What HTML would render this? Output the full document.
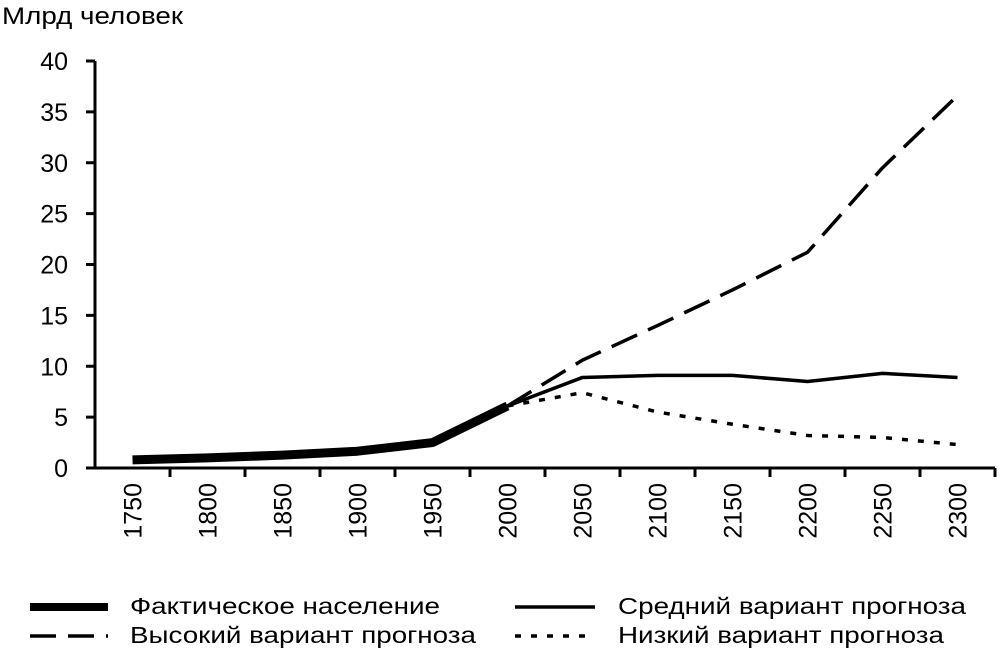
<!DOCTYPE html>
<html><head><meta charset="utf-8"><style>
body{margin:0;background:#fff;}
svg{display:block;font-family:"Liberation Sans",Arial,sans-serif;}
</style></head><body>
<svg id="chart" width="1000" height="653" viewBox="0 0 1000 653">
<text x="2" y="24" font-size="24" textLength="181" lengthAdjust="spacingAndGlyphs" fill="#000">Млрд человек</text>
<g id="axes"></g><g id="series"></g>
<g>
<line x1="30" y1="607" x2="108" y2="607" stroke="#000" stroke-width="8"/>
<text x="130" y="614" font-size="23" textLength="310" lengthAdjust="spacingAndGlyphs">Фактическое население</text>
<line x1="30" y1="636" x2="108" y2="636" stroke="#000" stroke-width="3.5" stroke-dasharray="26,12"/>
<text x="130" y="643" font-size="23" textLength="346" lengthAdjust="spacingAndGlyphs">Высокий вариант прогноза</text>
<line x1="515" y1="607" x2="595" y2="607" stroke="#000" stroke-width="3.5"/>
<text x="618" y="614" font-size="23" textLength="348" lengthAdjust="spacingAndGlyphs">Средний вариант прогноза</text>
<line x1="515" y1="636" x2="595" y2="636" stroke="#000" stroke-width="3.5" stroke-dasharray="6,10"/>
<text x="618" y="643" font-size="23" textLength="326" lengthAdjust="spacingAndGlyphs">Низкий вариант прогноза</text>
</g>
</svg>
<script>
const categories=["1750","1800","1850","1900","1950","2000","2050","2100","2150","2200","2250","2300"];
const yTicks=[0,5,10,15,20,25,30,35,40];
const actual=[0.8,1.0,1.26,1.65,2.5,6.1,null,null,null,null,null,null];
const medium=[null,null,null,null,null,6.1,8.9,9.1,9.1,8.5,9.3,8.9];
const high=[null,null,null,null,null,6.1,10.6,14.0,17.5,21.2,29.5,36.6];
const low=[null,null,null,null,null,6.1,7.4,5.5,4.3,3.2,3.0,2.3];
const NS="http://www.w3.org/2000/svg";
const X0=95,BW=75,Y0=468,YT=61,YMAX=40;
function x(i){return X0+BW*(i+0.5);}
function y(v){return Y0-(Y0-YT)*v/YMAX;}
function mk(tag,attrs,parent){const e=document.createElementNS(NS,tag);for(const k in attrs)e.setAttribute(k,attrs[k]);parent.appendChild(e);return e;}
const axes=document.getElementById('axes'),ser=document.getElementById('series');
let a=mk('line',{x1:X0,y1:YT,x2:X0,y2:Y0,stroke:'#000','stroke-width':3},axes);


a=mk('line',{x1:X0-8,y1:Y0,x2:X0+BW*categories.length,y2:Y0,stroke:'#000','stroke-width':3},axes);


yTicks.forEach(v=>{
 const t=mk('line',{x1:X0-9,y1:y(v),x2:X0,y2:y(v),stroke:'#000','stroke-width':3},axes);
 
 
 const l=mk('text',{x:X0-27,y:y(v)+9,'font-size':25,'text-anchor':'end'},axes);
 l.textContent=v;
 
 
});
for(let i=1;i<=categories.length;i++){
 const t=mk('line',{x1:X0+BW*i,y1:Y0,x2:X0+BW*i,y2:Y0+9,stroke:'#000','stroke-width':3},axes);
 
 
}
categories.forEach((c,i)=>{
 const l=mk('text',{x:0,y:0,'font-size':25,'text-anchor':'end',transform:`translate(${x(i)+9},483) rotate(-90)`},axes);
 l.textContent=c;
 
 
});
function path(arr,w,dash,name){
 let d='';arr.forEach((v,i)=>{if(v!==null)d+=(d?'L':'M')+x(i)+','+y(v);});
 const p=mk('path',{d:d,fill:'none',stroke:'#000','stroke-width':w,'stroke-linejoin':'round'},ser);
 if(dash)p.setAttribute('stroke-dasharray',dash);
 
 
}
path(high,3.5,'28,12','series-high');
path(low,3.5,'6,10','series-low');
path(medium,3.5,null,'series-medium');
path(actual,9,null,'series-actual');
</script>
</body></html>
